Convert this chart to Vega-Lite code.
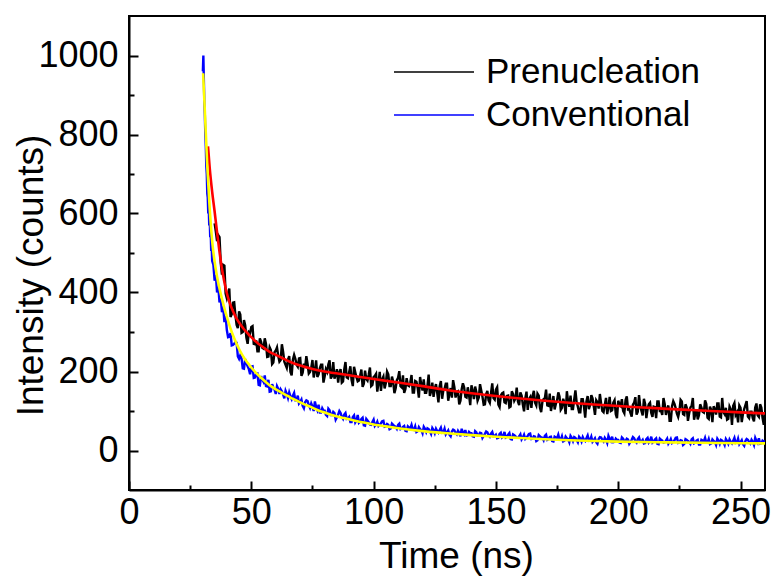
{
"$schema": "https://vega.github.io/schema/vega-lite/v6.json",
"width": 636, "height": 474,
"autosize": "none",
"padding": {"left": 129, "top": 16, "right": 9, "bottom": 93},
"background": "white",
"config": {"view": {"stroke": "black", "strokeWidth": 2}, "font": "Liberation Sans"},
"datasets": {
"decay": [
{"s":"Prenucleation","t":35,"v":575},{"s":"Prenucleation","t":36,"v":530},{"s":"Prenucleation","t":37,"v":540},{"s":"Prenucleation","t":38,"v":445},{"s":"Prenucleation","t":39,"v":468},{"s":"Prenucleation","t":40,"v":385},{"s":"Prenucleation","t":41,"v":410},{"s":"Prenucleation","t":42,"v":345},{"s":"Prenucleation","t":43,"v":375},{"s":"Prenucleation","t":44,"v":318},{"s":"Prenucleation","t":45,"v":352},{"s":"Prenucleation","t":46,"v":298},{"s":"Prenucleation","t":47,"v":330},
{"s":"Prenucleation","t":48,"v":285},{"s":"Prenucleation","t":49,"v":300},{"s":"Prenucleation","t":50,"v":313},{"s":"Prenucleation","t":51,"v":270},{"s":"Prenucleation","t":52,"v":279},{"s":"Prenucleation","t":53,"v":251},{"s":"Prenucleation","t":54,"v":275},{"s":"Prenucleation","t":55,"v":258},{"s":"Prenucleation","t":56,"v":270},{"s":"Prenucleation","t":57,"v":238},{"s":"Prenucleation","t":58,"v":254},{"s":"Prenucleation","t":59,"v":223},{"s":"Prenucleation","t":60,"v":253},{"s":"Prenucleation","t":61,"v":240},{"s":"Prenucleation","t":62,"v":229},{"s":"Prenucleation","t":63,"v":250},{"s":"Prenucleation","t":64,"v":217},{"s":"Prenucleation","t":65,"v":230},{"s":"Prenucleation","t":66,"v":199},{"s":"Prenucleation","t":67,"v":230},{"s":"Prenucleation","t":68,"v":232},{"s":"Prenucleation","t":69,"v":212},{"s":"Prenucleation","t":70,"v":234},{"s":"Prenucleation","t":71,"v":197},{"s":"Prenucleation","t":72,"v":210},{"s":"Prenucleation","t":73,"v":219},{"s":"Prenucleation","t":74,"v":199},{"s":"Prenucleation","t":75,"v":229},{"s":"Prenucleation","t":76,"v":201},{"s":"Prenucleation","t":77,"v":186},{"s":"Prenucleation","t":78,"v":208},{"s":"Prenucleation","t":79,"v":217},{"s":"Prenucleation","t":80,"v":188},{"s":"Prenucleation","t":81,"v":199},{"s":"Prenucleation","t":82,"v":228},{"s":"Prenucleation","t":83,"v":189},{"s":"Prenucleation","t":84,"v":182},{"s":"Prenucleation","t":85,"v":206},{"s":"Prenucleation","t":86,"v":198},{"s":"Prenucleation","t":87,"v":172},{"s":"Prenucleation","t":88,"v":205},{"s":"Prenucleation","t":89,"v":185},{"s":"Prenucleation","t":90,"v":198},{"s":"Prenucleation","t":91,"v":178},{"s":"Prenucleation","t":92,"v":212},{"s":"Prenucleation","t":93,"v":185},
{"s":"Prenucleation","t":94,"v":177},{"s":"Prenucleation","t":95,"v":205},{"s":"Prenucleation","t":96,"v":169},{"s":"Prenucleation","t":97,"v":181},{"s":"Prenucleation","t":98,"v":192},{"s":"Prenucleation","t":99,"v":163},{"s":"Prenucleation","t":100,"v":186},{"s":"Prenucleation","t":101,"v":194},{"s":"Prenucleation","t":102,"v":171},{"s":"Prenucleation","t":103,"v":151},{"s":"Prenucleation","t":104,"v":187},{"s":"Prenucleation","t":105,"v":171},{"s":"Prenucleation","t":106,"v":193},{"s":"Prenucleation","t":107,"v":163},{"s":"Prenucleation","t":108,"v":174},{"s":"Prenucleation","t":109,"v":157},{"s":"Prenucleation","t":110,"v":184},{"s":"Prenucleation","t":111,"v":163},{"s":"Prenucleation","t":112,"v":190},{"s":"Prenucleation","t":113,"v":156},{"s":"Prenucleation","t":114,"v":165},{"s":"Prenucleation","t":115,"v":172},{"s":"Prenucleation","t":116,"v":147},{"s":"Prenucleation","t":117,"v":176},{"s":"Prenucleation","t":118,"v":159},{"s":"Prenucleation","t":119,"v":186},{"s":"Prenucleation","t":120,"v":152},{"s":"Prenucleation","t":121,"v":146},{"s":"Prenucleation","t":122,"v":163},{"s":"Prenucleation","t":123,"v":138},{"s":"Prenucleation","t":124,"v":172},{"s":"Prenucleation","t":125,"v":157},{"s":"Prenucleation","t":126,"v":146},{"s":"Prenucleation","t":127,"v":163},{"s":"Prenucleation","t":128,"v":131},{"s":"Prenucleation","t":129,"v":156},{"s":"Prenucleation","t":130,"v":169},{"s":"Prenucleation","t":131,"v":144},{"s":"Prenucleation","t":132,"v":134},{"s":"Prenucleation","t":133,"v":161},{"s":"Prenucleation","t":134,"v":148},{"s":"Prenucleation","t":135,"v":117},{"s":"Prenucleation","t":136,"v":155},{"s":"Prenucleation","t":137,"v":160},{"s":"Prenucleation","t":138,"v":134},{"s":"Prenucleation","t":139,"v":141},{"s":"Prenucleation","t":140,"v":165},{"s":"Prenucleation","t":141,"v":130},{"s":"Prenucleation","t":142,"v":148},{"s":"Prenucleation","t":143,"v":134},{"s":"Prenucleation","t":144,"v":152},{"s":"Prenucleation","t":145,"v":116},{"s":"Prenucleation","t":146,"v":143},{"s":"Prenucleation","t":147,"v":127},{"s":"Prenucleation","t":148,"v":146},{"s":"Prenucleation","t":149,"v":133},{"s":"Prenucleation","t":150,"v":154},{"s":"Prenucleation","t":151,"v":116},{"s":"Prenucleation","t":152,"v":139},{"s":"Prenucleation","t":153,"v":147},
{"s":"Prenucleation","t":154,"v":120},{"s":"Prenucleation","t":155,"v":139},{"s":"Prenucleation","t":156,"v":111},{"s":"Prenucleation","t":157,"v":143},{"s":"Prenucleation","t":158,"v":132},{"s":"Prenucleation","t":159,"v":124},{"s":"Prenucleation","t":160,"v":147},{"s":"Prenucleation","t":161,"v":116},{"s":"Prenucleation","t":162,"v":132},{"s":"Prenucleation","t":163,"v":103},{"s":"Prenucleation","t":164,"v":135},{"s":"Prenucleation","t":165,"v":139},{"s":"Prenucleation","t":166,"v":121},{"s":"Prenucleation","t":167,"v":144},{"s":"Prenucleation","t":168,"v":108},{"s":"Prenucleation","t":169,"v":123},{"s":"Prenucleation","t":170,"v":132},{"s":"Prenucleation","t":171,"v":114},{"s":"Prenucleation","t":172,"v":144},{"s":"Prenucleation","t":173,"v":118},{"s":"Prenucleation","t":174,"v":104},{"s":"Prenucleation","t":175,"v":127},{"s":"Prenucleation","t":176,"v":137},{"s":"Prenucleation","t":177,"v":108},{"s":"Prenucleation","t":178,"v":120},{"s":"Prenucleation","t":179,"v":150},{"s":"Prenucleation","t":180,"v":111},{"s":"Prenucleation","t":181,"v":105},{"s":"Prenucleation","t":182,"v":129},{"s":"Prenucleation","t":183,"v":122},{"s":"Prenucleation","t":184,"v":97},{"s":"Prenucleation","t":185,"v":130},{"s":"Prenucleation","t":186,"v":111},{"s":"Prenucleation","t":187,"v":124},{"s":"Prenucleation","t":188,"v":105},{"s":"Prenucleation","t":189,"v":140},{"s":"Prenucleation","t":190,"v":112},{"s":"Prenucleation","t":191,"v":127},{"s":"Prenucleation","t":192,"v":106},{"s":"Prenucleation","t":193,"v":119},{"s":"Prenucleation","t":194,"v":97},{"s":"Prenucleation","t":195,"v":133},{"s":"Prenucleation","t":196,"v":110},{"s":"Prenucleation","t":197,"v":100},{"s":"Prenucleation","t":198,"v":121},{"s":"Prenucleation","t":199,"v":92},{"s":"Prenucleation","t":200,"v":126},{"s":"Prenucleation","t":201,"v":113},{"s":"Prenucleation","t":202,"v":100},{"s":"Prenucleation","t":203,"v":128},{"s":"Prenucleation","t":204,"v":104},{"s":"Prenucleation","t":205,"v":95},{"s":"Prenucleation","t":206,"v":116},{"s":"Prenucleation","t":207,"v":135},{"s":"Prenucleation","t":208,"v":98},{"s":"Prenucleation","t":209,"v":112},{"s":"Prenucleation","t":210,"v":89},{"s":"Prenucleation","t":211,"v":118},{"s":"Prenucleation","t":212,"v":105},{"s":"Prenucleation","t":213,"v":121},
{"s":"Prenucleation","t":214,"v":85},{"s":"Prenucleation","t":215,"v":110},{"s":"Prenucleation","t":216,"v":124},{"s":"Prenucleation","t":217,"v":100},{"s":"Prenucleation","t":218,"v":90},{"s":"Prenucleation","t":219,"v":117},{"s":"Prenucleation","t":220,"v":105},{"s":"Prenucleation","t":221,"v":75},{"s":"Prenucleation","t":222,"v":112},{"s":"Prenucleation","t":223,"v":118},{"s":"Prenucleation","t":224,"v":93},{"s":"Prenucleation","t":225,"v":100},{"s":"Prenucleation","t":226,"v":124},{"s":"Prenucleation","t":227,"v":90},{"s":"Prenucleation","t":228,"v":109},{"s":"Prenucleation","t":229,"v":94},{"s":"Prenucleation","t":230,"v":113},{"s":"Prenucleation","t":231,"v":78},{"s":"Prenucleation","t":232,"v":104},{"s":"Prenucleation","t":233,"v":89},{"s":"Prenucleation","t":234,"v":109},{"s":"Prenucleation","t":235,"v":96},{"s":"Prenucleation","t":236,"v":118},{"s":"Prenucleation","t":237,"v":80},{"s":"Prenucleation","t":238,"v":103},{"s":"Prenucleation","t":239,"v":112},{"s":"Prenucleation","t":240,"v":91},{"s":"Prenucleation","t":241,"v":119},{"s":"Prenucleation","t":242,"v":84},{"s":"Prenucleation","t":243,"v":97},{"s":"Prenucleation","t":244,"v":108},{"s":"Prenucleation","t":245,"v":80},{"s":"Prenucleation","t":246,"v":104},{"s":"Prenucleation","t":247,"v":113},{"s":"Prenucleation","t":248,"v":90},{"s":"Prenucleation","t":249,"v":71},{"s":"Prenucleation","t":250,"v":108},{"s":"Prenucleation","t":251,"v":93},{"s":"Prenucleation","t":252,"v":115},{"s":"Prenucleation","t":253,"v":86},{"s":"Prenucleation","t":254,"v":98},{"s":"Prenucleation","t":255,"v":82},{"s":"Prenucleation","t":256,"v":109},{"s":"Prenucleation","t":257,"v":89},{"s":"Prenucleation","t":258,"v":117},{"s":"Prenucleation","t":259,"v":83},{"s":"Prenucleation","t":260,"v":93},
{"s":"Prenucleation","t":35.5,"v":554},{"s":"Prenucleation","t":36.5,"v":545},{"s":"Prenucleation","t":37.5,"v":475},{"s":"Prenucleation","t":38.5,"v":470},{"s":"Prenucleation","t":39.5,"v":397},{"s":"Prenucleation","t":40.5,"v":396},{"s":"Prenucleation","t":41.5,"v":338},{"s":"Prenucleation","t":42.5,"v":374},{"s":"Prenucleation","t":43.5,"v":343},{"s":"Prenucleation","t":44.5,"v":310},{"s":"Prenucleation","t":45.5,"v":344},{"s":"Prenucleation","t":46.5,"v":300},{"s":"Prenucleation","t":47.5,"v":317},{"s":"Prenucleation","t":48.5,"v":270},{"s":"Prenucleation","t":49.5,"v":297},{"s":"Prenucleation","t":50.5,"v":315},{"s":"Prenucleation","t":51.5,"v":269},{"s":"Prenucleation","t":52.5,"v":251},{"s":"Prenucleation","t":53.5,"v":284},{"s":"Prenucleation","t":54.5,"v":260},{"s":"Prenucleation","t":55.5,"v":284},{"s":"Prenucleation","t":56.5,"v":237},{"s":"Prenucleation","t":57.5,"v":261},{"s":"Prenucleation","t":58.5,"v":219},{"s":"Prenucleation","t":59.5,"v":249},{"s":"Prenucleation","t":60.5,"v":261},{"s":"Prenucleation","t":61.5,"v":225},{"s":"Prenucleation","t":62.5,"v":269},{"s":"Prenucleation","t":63.5,"v":225},{"s":"Prenucleation","t":64.5,"v":209},{"s":"Prenucleation","t":65.5,"v":239},{"s":"Prenucleation","t":66.5,"v":190},{"s":"Prenucleation","t":67.5,"v":242},{"s":"Prenucleation","t":68.5,"v":217},{"s":"Prenucleation","t":69.5,"v":233},{"s":"Prenucleation","t":70.5,"v":189},{"s":"Prenucleation","t":71.5,"v":220},{"s":"Prenucleation","t":72.5,"v":239},{"s":"Prenucleation","t":73.5,"v":195},{"s":"Prenucleation","t":74.5,"v":209},{"s":"Prenucleation","t":75.5,"v":185},{"s":"Prenucleation","t":76.5,"v":228},{"s":"Prenucleation","t":77.5,"v":193},{"s":"Prenucleation","t":78.5,"v":217},{"s":"Prenucleation","t":79.5,"v":172},{"s":"Prenucleation","t":80.5,"v":206},{"s":"Prenucleation","t":81.5,"v":218},{"s":"Prenucleation","t":82.5,"v":182},{"s":"Prenucleation","t":83.5,"v":224},{"s":"Prenucleation","t":84.5,"v":191},{"s":"Prenucleation","t":85.5,"v":172},{"s":"Prenucleation","t":86.5,"v":206},{"s":"Prenucleation","t":87.5,"v":175},{"s":"Prenucleation","t":88.5,"v":224},{"s":"Prenucleation","t":89.5,"v":183},{"s":"Prenucleation","t":90.5,"v":213},{"s":"Prenucleation","t":91.5,"v":163},{"s":"Prenucleation","t":92.5,"v":198},{"s":"Prenucleation","t":93.5,"v":175},{"s":"Prenucleation","t":94.5,"v":190},{"s":"Prenucleation","t":95.5,"v":161},{"s":"Prenucleation","t":96.5,"v":202},{"s":"Prenucleation","t":97.5,"v":177},{"s":"Prenucleation","t":98.5,"v":210},{"s":"Prenucleation","t":99.5,"v":166},{"s":"Prenucleation","t":100.5,"v":189},{"s":"Prenucleation","t":101.5,"v":149},{"s":"Prenucleation","t":102.5,"v":199},{"s":"Prenucleation","t":103.5,"v":180},{"s":"Prenucleation","t":104.5,"v":157},{"s":"Prenucleation","t":105.5,"v":200},{"s":"Prenucleation","t":106.5,"v":163},{"s":"Prenucleation","t":107.5,"v":187},{"s":"Prenucleation","t":108.5,"v":145},{"s":"Prenucleation","t":109.5,"v":178},{"s":"Prenucleation","t":110.5,"v":201},{"s":"Prenucleation","t":111.5,"v":160},{"s":"Prenucleation","t":112.5,"v":146},{"s":"Prenucleation","t":113.5,"v":183},{"s":"Prenucleation","t":114.5,"v":163},{"s":"Prenucleation","t":115.5,"v":191},{"s":"Prenucleation","t":116.5,"v":147},{"s":"Prenucleation","t":117.5,"v":174},{"s":"Prenucleation","t":118.5,"v":134},{"s":"Prenucleation","t":119.5,"v":166},{"s":"Prenucleation","t":120.5,"v":180},{"s":"Prenucleation","t":121.5,"v":146},{"s":"Prenucleation","t":122.5,"v":192},{"s":"Prenucleation","t":123.5,"v":150},{"s":"Prenucleation","t":124.5,"v":136},{"s":"Prenucleation","t":125.5,"v":168},{"s":"Prenucleation","t":126.5,"v":122},{"s":"Prenucleation","t":127.5,"v":176},{"s":"Prenucleation","t":128.5,"v":152},{"s":"Prenucleation","t":129.5,"v":169},{"s":"Prenucleation","t":130.5,"v":126},{"s":"Prenucleation","t":131.5,"v":158},{"s":"Prenucleation","t":132.5,"v":178},{"s":"Prenucleation","t":133.5,"v":134},{"s":"Prenucleation","t":134.5,"v":150},{"s":"Prenucleation","t":135.5,"v":126},{"s":"Prenucleation","t":136.5,"v":170},{"s":"Prenucleation","t":137.5,"v":136},{"s":"Prenucleation","t":138.5,"v":160},{"s":"Prenucleation","t":139.5,"v":115},{"s":"Prenucleation","t":140.5,"v":150},{"s":"Prenucleation","t":141.5,"v":162},{"s":"Prenucleation","t":142.5,"v":126},{"s":"Prenucleation","t":143.5,"v":168},{"s":"Prenucleation","t":144.5,"v":136},{"s":"Prenucleation","t":145.5,"v":117},{"s":"Prenucleation","t":146.5,"v":151},{"s":"Prenucleation","t":147.5,"v":121},{"s":"Prenucleation","t":148.5,"v":170},{"s":"Prenucleation","t":149.5,"v":129},{"s":"Prenucleation","t":150.5,"v":160},{"s":"Prenucleation","t":151.5,"v":110},{"s":"Prenucleation","t":152.5,"v":145},{"s":"Prenucleation","t":153.5,"v":122},{"s":"Prenucleation","t":154.5,"v":138},{"s":"Prenucleation","t":155.5,"v":109},{"s":"Prenucleation","t":156.5,"v":150},{"s":"Prenucleation","t":157.5,"v":126},{"s":"Prenucleation","t":158.5,"v":159},{"s":"Prenucleation","t":159.5,"v":115},{"s":"Prenucleation","t":160.5,"v":139},{"s":"Prenucleation","t":161.5,"v":99},{"s":"Prenucleation","t":162.5,"v":149},{"s":"Prenucleation","t":163.5,"v":130},{"s":"Prenucleation","t":164.5,"v":108},{"s":"Prenucleation","t":165.5,"v":151},{"s":"Prenucleation","t":166.5,"v":114},{"s":"Prenucleation","t":167.5,"v":139},{"s":"Prenucleation","t":168.5,"v":97},{"s":"Prenucleation","t":169.5,"v":130},{"s":"Prenucleation","t":170.5,"v":154},{"s":"Prenucleation","t":171.5,"v":113},{"s":"Prenucleation","t":172.5,"v":100},{"s":"Prenucleation","t":173.5,"v":138},{"s":"Prenucleation","t":174.5,"v":118},{"s":"Prenucleation","t":175.5,"v":147},{"s":"Prenucleation","t":176.5,"v":103},{"s":"Prenucleation","t":177.5,"v":131},{"s":"Prenucleation","t":178.5,"v":92},{"s":"Prenucleation","t":179.5,"v":124},{"s":"Prenucleation","t":180.5,"v":139},{"s":"Prenucleation","t":181.5,"v":105},{"s":"Prenucleation","t":182.5,"v":152},{"s":"Prenucleation","t":183.5,"v":111},{"s":"Prenucleation","t":184.5,"v":97},{"s":"Prenucleation","t":185.5,"v":130},{"s":"Prenucleation","t":186.5,"v":83},{"s":"Prenucleation","t":187.5,"v":138},{"s":"Prenucleation","t":188.5,"v":115},{"s":"Prenucleation","t":189.5,"v":132},{"s":"Prenucleation","t":190.5,"v":90},{"s":"Prenucleation","t":191.5,"v":122},{"s":"Prenucleation","t":192.5,"v":143},{"s":"Prenucleation","t":193.5,"v":100},{"s":"Prenucleation","t":194.5,"v":115},{"s":"Prenucleation","t":195.5,"v":92},{"s":"Prenucleation","t":196.5,"v":136},{"s":"Prenucleation","t":197.5,"v":102},{"s":"Prenucleation","t":198.5,"v":127},{"s":"Prenucleation","t":199.5,"v":82},{"s":"Prenucleation","t":200.5,"v":117},{"s":"Prenucleation","t":201.5,"v":130},{"s":"Prenucleation","t":202.5,"v":94},{"s":"Prenucleation","t":203.5,"v":137},{"s":"Prenucleation","t":204.5,"v":105},{"s":"Prenucleation","t":205.5,"v":86},{"s":"Prenucleation","t":206.5,"v":121},{"s":"Prenucleation","t":207.5,"v":91},{"s":"Prenucleation","t":208.5,"v":140},{"s":"Prenucleation","t":209.5,"v":100},{"s":"Prenucleation","t":210.5,"v":131},{"s":"Prenucleation","t":211.5,"v":82},{"s":"Prenucleation","t":212.5,"v":117},{"s":"Prenucleation","t":213.5,"v":95},{"s":"Prenucleation","t":214.5,"v":111},{"s":"Prenucleation","t":215.5,"v":82},{"s":"Prenucleation","t":216.5,"v":124},{"s":"Prenucleation","t":217.5,"v":100},{"s":"Prenucleation","t":218.5,"v":133},{"s":"Prenucleation","t":219.5,"v":90},{"s":"Prenucleation","t":220.5,"v":114},{"s":"Prenucleation","t":221.5,"v":75},{"s":"Prenucleation","t":222.5,"v":125},{"s":"Prenucleation","t":223.5,"v":107},{"s":"Prenucleation","t":224.5,"v":85},{"s":"Prenucleation","t":225.5,"v":128},{"s":"Prenucleation","t":226.5,"v":92},{"s":"Prenucleation","t":227.5,"v":117},{"s":"Prenucleation","t":228.5,"v":75},{"s":"Prenucleation","t":229.5,"v":109},{"s":"Prenucleation","t":230.5,"v":133},{"s":"Prenucleation","t":231.5,"v":93},{"s":"Prenucleation","t":232.5,"v":79},{"s":"Prenucleation","t":233.5,"v":117},{"s":"Prenucleation","t":234.5,"v":98},{"s":"Prenucleation","t":235.5,"v":127},{"s":"Prenucleation","t":236.5,"v":83},{"s":"Prenucleation","t":237.5,"v":111},{"s":"Prenucleation","t":238.5,"v":72},{"s":"Prenucleation","t":239.5,"v":105},{"s":"Prenucleation","t":240.5,"v":119},{"s":"Prenucleation","t":241.5,"v":86},{"s":"Prenucleation","t":242.5,"v":133},{"s":"Prenucleation","t":243.5,"v":92},{"s":"Prenucleation","t":244.5,"v":78},{"s":"Prenucleation","t":245.5,"v":111},{"s":"Prenucleation","t":246.5,"v":65},{"s":"Prenucleation","t":247.5,"v":120},{"s":"Prenucleation","t":248.5,"v":96},{"s":"Prenucleation","t":249.5,"v":114},{"s":"Prenucleation","t":250.5,"v":72},{"s":"Prenucleation","t":251.5,"v":105},{"s":"Prenucleation","t":252.5,"v":125},{"s":"Prenucleation","t":253.5,"v":82},{"s":"Prenucleation","t":254.5,"v":98},{"s":"Prenucleation","t":255.5,"v":74},{"s":"Prenucleation","t":256.5,"v":119},{"s":"Prenucleation","t":257.5,"v":85},{"s":"Prenucleation","t":258.5,"v":109},{"s":"Prenucleation","t":259.5,"v":65},
{"s":"Conventional","t":30.2,"v":960},{"s":"Conventional","t":30.4,"v":1000},{"s":"Conventional","t":30.6,"v":940},{"s":"Conventional","t":30.8,"v":880},{"s":"Conventional","t":31.0,"v":850},{"s":"Conventional","t":31.2,"v":800},{"s":"Conventional","t":31.4,"v":770},{"s":"Conventional","t":31.6,"v":720},{"s":"Conventional","t":31.8,"v":700},{"s":"Conventional","t":32.0,"v":650},{"s":"Conventional","t":32.2,"v":640},{"s":"Conventional","t":32.4,"v":600},{"s":"Conventional","t":32.6,"v":615},{"s":"Conventional","t":32.8,"v":570},{"s":"Conventional","t":33.0,"v":585},{"s":"Conventional","t":33.2,"v":540},{"s":"Conventional","t":33.4,"v":555},{"s":"Conventional","t":33.6,"v":505},{"s":"Conventional","t":33.8,"v":520},{"s":"Conventional","t":34.0,"v":480},{"s":"Conventional","t":34.5,"v":470},{"s":"Conventional","t":35.0,"v":430},{"s":"Conventional","t":35.5,"v":445},{"s":"Conventional","t":36.0,"v":400},{"s":"Conventional","t":36.5,"v":415},{"s":"Conventional","t":37.0,"v":375},{"s":"Conventional","t":37.5,"v":385},{"s":"Conventional","t":38.0,"v":350},{"s":"Conventional","t":38.5,"v":365},{"s":"Conventional","t":39.0,"v":325},{"s":"Conventional","t":39.5,"v":340},{"s":"Conventional","t":40.0,"v":305},
{"s":"Conventional","t":41,"v":288},{"s":"Conventional","t":42,"v":266},{"s":"Conventional","t":43,"v":270},{"s":"Conventional","t":44,"v":273},{"s":"Conventional","t":45,"v":232},{"s":"Conventional","t":46,"v":233},{"s":"Conventional","t":47,"v":207},{"s":"Conventional","t":48,"v":222},{"s":"Conventional","t":49,"v":206},{"s":"Conventional","t":50,"v":212},{"s":"Conventional","t":51,"v":184},{"s":"Conventional","t":52,"v":194},{"s":"Conventional","t":53,"v":166},{"s":"Conventional","t":54,"v":188},{"s":"Conventional","t":55,"v":174},{"s":"Conventional","t":56,"v":163},{"s":"Conventional","t":57,"v":179},{"s":"Conventional","t":58,"v":150},{"s":"Conventional","t":59,"v":159},{"s":"Conventional","t":60,"v":143},{"s":"Conventional","t":61,"v":156},{"s":"Conventional","t":62,"v":155},{"s":"Conventional","t":63,"v":142},{"s":"Conventional","t":64,"v":151},{"s":"Conventional","t":65,"v":133},{"s":"Conventional","t":66,"v":137},{"s":"Conventional","t":67,"v":139},{"s":"Conventional","t":68,"v":127},{"s":"Conventional","t":69,"v":139},{"s":"Conventional","t":70,"v":123},{"s":"Conventional","t":71,"v":113},{"s":"Conventional","t":72,"v":122},{"s":"Conventional","t":73,"v":125},{"s":"Conventional","t":74,"v":108},{"s":"Conventional","t":75,"v":111},{"s":"Conventional","t":76,"v":124},{"s":"Conventional","t":77,"v":102},{"s":"Conventional","t":78,"v":96},{"s":"Conventional","t":79,"v":107},{"s":"Conventional","t":80,"v":101},{"s":"Conventional","t":81,"v":87},{"s":"Conventional","t":82,"v":102},{"s":"Conventional","t":83,"v":90},{"s":"Conventional","t":84,"v":95},{"s":"Conventional","t":85,"v":84},{"s":"Conventional","t":86,"v":100},{"s":"Conventional","t":87,"v":85},{"s":"Conventional","t":88,"v":91},{"s":"Conventional","t":89,"v":80},{"s":"Conventional","t":90,"v":85},{"s":"Conventional","t":91,"v":72},{"s":"Conventional","t":92,"v":89},{"s":"Conventional","t":93,"v":76},{"s":"Conventional","t":94,"v":70},{"s":"Conventional","t":95,"v":80},{"s":"Conventional","t":96,"v":64},{"s":"Conventional","t":97,"v":80},{"s":"Conventional","t":98,"v":72},{"s":"Conventional","t":99,"v":65},{"s":"Conventional","t":100,"v":78},
{"s":"Conventional","t":101,"v":66},{"s":"Conventional","t":102,"v":62},{"s":"Conventional","t":103,"v":69},{"s":"Conventional","t":104,"v":75},{"s":"Conventional","t":105,"v":61},{"s":"Conventional","t":106,"v":65},{"s":"Conventional","t":107,"v":56},{"s":"Conventional","t":108,"v":65},{"s":"Conventional","t":109,"v":60},{"s":"Conventional","t":110,"v":65},{"s":"Conventional","t":111,"v":54},{"s":"Conventional","t":112,"v":60},{"s":"Conventional","t":113,"v":50},{"s":"Conventional","t":114,"v":61},{"s":"Conventional","t":115,"v":56},{"s":"Conventional","t":116,"v":53},{"s":"Conventional","t":117,"v":61},{"s":"Conventional","t":118,"v":49},{"s":"Conventional","t":119,"v":54},{"s":"Conventional","t":120,"v":44},{"s":"Conventional","t":121,"v":55},{"s":"Conventional","t":122,"v":56},{"s":"Conventional","t":123,"v":49},{"s":"Conventional","t":124,"v":57},{"s":"Conventional","t":125,"v":44},{"s":"Conventional","t":126,"v":49},{"s":"Conventional","t":127,"v":52},{"s":"Conventional","t":128,"v":45},{"s":"Conventional","t":129,"v":55},{"s":"Conventional","t":130,"v":46},{"s":"Conventional","t":131,"v":40},{"s":"Conventional","t":132,"v":48},{"s":"Conventional","t":133,"v":51},{"s":"Conventional","t":134,"v":41},{"s":"Conventional","t":135,"v":45},{"s":"Conventional","t":136,"v":55},{"s":"Conventional","t":137,"v":41},{"s":"Conventional","t":138,"v":38},{"s":"Conventional","t":139,"v":47},{"s":"Conventional","t":140,"v":44},{"s":"Conventional","t":141,"v":35},{"s":"Conventional","t":142,"v":46},{"s":"Conventional","t":143,"v":39},{"s":"Conventional","t":144,"v":44},{"s":"Conventional","t":145,"v":37},{"s":"Conventional","t":146,"v":48},{"s":"Conventional","t":147,"v":39},{"s":"Conventional","t":148,"v":43},{"s":"Conventional","t":149,"v":36},{"s":"Conventional","t":150,"v":40},{"s":"Conventional","t":151,"v":32},{"s":"Conventional","t":152,"v":45},{"s":"Conventional","t":153,"v":36},{"s":"Conventional","t":154,"v":33},{"s":"Conventional","t":155,"v":40},{"s":"Conventional","t":156,"v":29},{"s":"Conventional","t":157,"v":41},{"s":"Conventional","t":158,"v":36},{"s":"Conventional","t":159,"v":32},{"s":"Conventional","t":160,"v":41},
{"s":"Conventional","t":161,"v":33},{"s":"Conventional","t":162,"v":29},{"s":"Conventional","t":163,"v":37},{"s":"Conventional","t":164,"v":43},{"s":"Conventional","t":165,"v":30},{"s":"Conventional","t":166,"v":35},{"s":"Conventional","t":167,"v":26},{"s":"Conventional","t":168,"v":36},{"s":"Conventional","t":169,"v":32},{"s":"Conventional","t":170,"v":37},{"s":"Conventional","t":171,"v":27},{"s":"Conventional","t":172,"v":34},{"s":"Conventional","t":173,"v":24},{"s":"Conventional","t":174,"v":35},{"s":"Conventional","t":175,"v":31},{"s":"Conventional","t":176,"v":28},{"s":"Conventional","t":177,"v":36},{"s":"Conventional","t":178,"v":25},{"s":"Conventional","t":179,"v":31},{"s":"Conventional","t":180,"v":21},{"s":"Conventional","t":181,"v":32},{"s":"Conventional","t":182,"v":34},{"s":"Conventional","t":183,"v":27},{"s":"Conventional","t":184,"v":35},{"s":"Conventional","t":185,"v":23},{"s":"Conventional","t":186,"v":28},{"s":"Conventional","t":187,"v":31},{"s":"Conventional","t":188,"v":25},{"s":"Conventional","t":189,"v":35},{"s":"Conventional","t":190,"v":26},{"s":"Conventional","t":191,"v":21},{"s":"Conventional","t":192,"v":29},{"s":"Conventional","t":193,"v":33},{"s":"Conventional","t":194,"v":23},{"s":"Conventional","t":195,"v":27},{"s":"Conventional","t":196,"v":37},{"s":"Conventional","t":197,"v":24},{"s":"Conventional","t":198,"v":21},{"s":"Conventional","t":199,"v":30},{"s":"Conventional","t":200,"v":27},{"s":"Conventional","t":201,"v":19},{"s":"Conventional","t":202,"v":30},{"s":"Conventional","t":203,"v":24},{"s":"Conventional","t":204,"v":28},{"s":"Conventional","t":205,"v":22},{"s":"Conventional","t":206,"v":34},{"s":"Conventional","t":207,"v":24},{"s":"Conventional","t":208,"v":29},{"s":"Conventional","t":209,"v":22},{"s":"Conventional","t":210,"v":27},
{"s":"Conventional","t":211,"v":19},{"s":"Conventional","t":212,"v":32},{"s":"Conventional","t":213,"v":24},{"s":"Conventional","t":214,"v":20},{"s":"Conventional","t":215,"v":28},{"s":"Conventional","t":216,"v":17},{"s":"Conventional","t":217,"v":30},{"s":"Conventional","t":218,"v":25},{"s":"Conventional","t":219,"v":21},{"s":"Conventional","t":220,"v":30},{"s":"Conventional","t":221,"v":22},{"s":"Conventional","t":222,"v":19},{"s":"Conventional","t":223,"v":26},{"s":"Conventional","t":224,"v":33},{"s":"Conventional","t":225,"v":20},{"s":"Conventional","t":226,"v":25},{"s":"Conventional","t":227,"v":17},{"s":"Conventional","t":228,"v":27},{"s":"Conventional","t":229,"v":22},{"s":"Conventional","t":230,"v":28},{"s":"Conventional","t":231,"v":18},{"s":"Conventional","t":232,"v":25},{"s":"Conventional","t":233,"v":15},{"s":"Conventional","t":234,"v":27},{"s":"Conventional","t":235,"v":23},{"s":"Conventional","t":236,"v":20},{"s":"Conventional","t":237,"v":29},{"s":"Conventional","t":238,"v":18},{"s":"Conventional","t":239,"v":24},{"s":"Conventional","t":240,"v":14},{"s":"Conventional","t":241,"v":25},{"s":"Conventional","t":242,"v":27},{"s":"Conventional","t":243,"v":21},{"s":"Conventional","t":244,"v":29},{"s":"Conventional","t":245,"v":17},{"s":"Conventional","t":246,"v":22},{"s":"Conventional","t":247,"v":25},{"s":"Conventional","t":248,"v":19},{"s":"Conventional","t":249,"v":30},{"s":"Conventional","t":250,"v":21},{"s":"Conventional","t":251,"v":16},{"s":"Conventional","t":252,"v":24},{"s":"Conventional","t":253,"v":27},{"s":"Conventional","t":254,"v":18},{"s":"Conventional","t":255,"v":22},{"s":"Conventional","t":256,"v":32},{"s":"Conventional","t":257,"v":19},{"s":"Conventional","t":258,"v":17},{"s":"Conventional","t":259,"v":25},{"s":"Conventional","t":260,"v":23},
{"s":"Conventional","t":40.5,"v":287},{"s":"Conventional","t":41.5,"v":297},{"s":"Conventional","t":42.5,"v":267},{"s":"Conventional","t":43.5,"v":275},{"s":"Conventional","t":44.5,"v":238},{"s":"Conventional","t":45.5,"v":241},{"s":"Conventional","t":46.5,"v":208},{"s":"Conventional","t":47.5,"v":231},{"s":"Conventional","t":48.5,"v":213},{"s":"Conventional","t":49.5,"v":193},{"s":"Conventional","t":50.5,"v":213},{"s":"Conventional","t":51.5,"v":185},{"s":"Conventional","t":52.5,"v":195},{"s":"Conventional","t":53.5,"v":165},{"s":"Conventional","t":54.5,"v":180},{"s":"Conventional","t":55.5,"v":190},{"s":"Conventional","t":56.5,"v":162},{"s":"Conventional","t":57.5,"v":149},{"s":"Conventional","t":58.5,"v":168},{"s":"Conventional","t":59.5,"v":154},{"s":"Conventional","t":60.5,"v":163},{"s":"Conventional","t":61.5,"v":143},{"s":"Conventional","t":62.5,"v":150},{"s":"Conventional","t":63.5,"v":132},{"s":"Conventional","t":64.5,"v":143},{"s":"Conventional","t":65.5,"v":147},{"s":"Conventional","t":66.5,"v":130},{"s":"Conventional","t":67.5,"v":146},{"s":"Conventional","t":68.5,"v":127},{"s":"Conventional","t":69.5,"v":119},{"s":"Conventional","t":70.5,"v":129},{"s":"Conventional","t":71.5,"v":107},{"s":"Conventional","t":72.5,"v":127},{"s":"Conventional","t":73.5,"v":115},{"s":"Conventional","t":74.5,"v":119},{"s":"Conventional","t":75.5,"v":100},{"s":"Conventional","t":76.5,"v":110},{"s":"Conventional","t":77.5,"v":116},{"s":"Conventional","t":78.5,"v":96},{"s":"Conventional","t":79.5,"v":101},{"s":"Conventional","t":80.5,"v":90},{"s":"Conventional","t":81.5,"v":106},{"s":"Conventional","t":82.5,"v":90},{"s":"Conventional","t":83.5,"v":98},{"s":"Conventional","t":84.5,"v":78},{"s":"Conventional","t":85.5,"v":91},{"s":"Conventional","t":86.5,"v":95},{"s":"Conventional","t":87.5,"v":80},{"s":"Conventional","t":88.5,"v":95},{"s":"Conventional","t":89.5,"v":81},{"s":"Conventional","t":90.5,"v":72},{"s":"Conventional","t":91.5,"v":85},{"s":"Conventional","t":92.5,"v":71},{"s":"Conventional","t":93.5,"v":90},{"s":"Conventional","t":94.5,"v":73},{"s":"Conventional","t":95.5,"v":83},{"s":"Conventional","t":96.5,"v":63},{"s":"Conventional","t":97.5,"v":76},{"s":"Conventional","t":98.5,"v":66},{"s":"Conventional","t":99.5,"v":72},{"s":"Conventional","t":100.5,"v":62},{"s":"Conventional","t":101.5,"v":73},{"s":"Conventional","t":102.5,"v":65},{"s":"Conventional","t":103.5,"v":74},{"s":"Conventional","t":104.5,"v":60},{"s":"Conventional","t":105.5,"v":67},{"s":"Conventional","t":106.5,"v":54},{"s":"Conventional","t":107.5,"v":68},{"s":"Conventional","t":108.5,"v":62},{"s":"Conventional","t":109.5,"v":55},{"s":"Conventional","t":110.5,"v":68},{"s":"Conventional","t":111.5,"v":56},{"s":"Conventional","t":112.5,"v":62},{"s":"Conventional","t":113.5,"v":49},{"s":"Conventional","t":114.5,"v":58},{"s":"Conventional","t":115.5,"v":65},{"s":"Conventional","t":116.5,"v":52},{"s":"Conventional","t":117.5,"v":47},{"s":"Conventional","t":118.5,"v":59},{"s":"Conventional","t":119.5,"v":52},{"s":"Conventional","t":120.5,"v":60},{"s":"Conventional","t":121.5,"v":47},{"s":"Conventional","t":122.5,"v":54},{"s":"Conventional","t":123.5,"v":42},{"s":"Conventional","t":124.5,"v":52},{"s":"Conventional","t":125.5,"v":55},{"s":"Conventional","t":126.5,"v":45},{"s":"Conventional","t":127.5,"v":58},{"s":"Conventional","t":128.5,"v":46},{"s":"Conventional","t":129.5,"v":41},{"s":"Conventional","t":130.5,"v":51},{"s":"Conventional","t":131.5,"v":36},{"s":"Conventional","t":132.5,"v":53},{"s":"Conventional","t":133.5,"v":45},{"s":"Conventional","t":134.5,"v":50},{"s":"Conventional","t":135.5,"v":36},{"s":"Conventional","t":136.5,"v":46},{"s":"Conventional","t":137.5,"v":52},{"s":"Conventional","t":138.5,"v":39},{"s":"Conventional","t":139.5,"v":44},{"s":"Conventional","t":140.5,"v":36},{"s":"Conventional","t":141.5,"v":49},{"s":"Conventional","t":142.5,"v":38},{"s":"Conventional","t":143.5,"v":45},{"s":"Conventional","t":144.5,"v":32},{"s":"Conventional","t":145.5,"v":42},{"s":"Conventional","t":146.5,"v":46},{"s":"Conventional","t":147.5,"v":35},{"s":"Conventional","t":148.5,"v":47},{"s":"Conventional","t":149.5,"v":37},{"s":"Conventional","t":150.5,"v":31},{"s":"Conventional","t":151.5,"v":42},{"s":"Conventional","t":152.5,"v":33},{"s":"Conventional","t":153.5,"v":47},{"s":"Conventional","t":154.5,"v":35},{"s":"Conventional","t":155.5,"v":44},{"s":"Conventional","t":156.5,"v":28},{"s":"Conventional","t":157.5,"v":39},{"s":"Conventional","t":158.5,"v":32},{"s":"Conventional","t":159.5,"v":36},{"s":"Conventional","t":160.5,"v":28},{"s":"Conventional","t":161.5,"v":40},{"s":"Conventional","t":162.5,"v":32},{"s":"Conventional","t":163.5,"v":42},{"s":"Conventional","t":164.5,"v":29},{"s":"Conventional","t":165.5,"v":36},{"s":"Conventional","t":166.5,"v":24},{"s":"Conventional","t":167.5,"v":39},{"s":"Conventional","t":168.5,"v":33},{"s":"Conventional","t":169.5,"v":26},{"s":"Conventional","t":170.5,"v":40},{"s":"Conventional","t":171.5,"v":29},{"s":"Conventional","t":172.5,"v":35},{"s":"Conventional","t":173.5,"v":23},{"s":"Conventional","t":174.5,"v":33},{"s":"Conventional","t":175.5,"v":40},{"s":"Conventional","t":176.5,"v":27},{"s":"Conventional","t":177.5,"v":23},{"s":"Conventional","t":178.5,"v":35},{"s":"Conventional","t":179.5,"v":29},{"s":"Conventional","t":180.5,"v":37},{"s":"Conventional","t":181.5,"v":24},{"s":"Conventional","t":182.5,"v":32},{"s":"Conventional","t":183.5,"v":21},{"s":"Conventional","t":184.5,"v":31},{"s":"Conventional","t":185.5,"v":34},{"s":"Conventional","t":186.5,"v":24},{"s":"Conventional","t":187.5,"v":38},{"s":"Conventional","t":188.5,"v":26},{"s":"Conventional","t":189.5,"v":22},{"s":"Conventional","t":190.5,"v":31},{"s":"Conventional","t":191.5,"v":17},{"s":"Conventional","t":192.5,"v":34},{"s":"Conventional","t":193.5,"v":27},{"s":"Conventional","t":194.5,"v":32},{"s":"Conventional","t":195.5,"v":19},{"s":"Conventional","t":196.5,"v":29},{"s":"Conventional","t":197.5,"v":35},{"s":"Conventional","t":198.5,"v":22},{"s":"Conventional","t":199.5,"v":27},{"s":"Conventional","t":200.5,"v":20},{"s":"Conventional","t":201.5,"v":33},{"s":"Conventional","t":202.5,"v":23},{"s":"Conventional","t":203.5,"v":30},{"s":"Conventional","t":204.5,"v":17},{"s":"Conventional","t":205.5,"v":27},{"s":"Conventional","t":206.5,"v":31},{"s":"Conventional","t":207.5,"v":20},{"s":"Conventional","t":208.5,"v":33},{"s":"Conventional","t":209.5,"v":23},{"s":"Conventional","t":210.5,"v":18},{"s":"Conventional","t":211.5,"v":29},{"s":"Conventional","t":212.5,"v":20},{"s":"Conventional","t":213.5,"v":35},{"s":"Conventional","t":214.5,"v":23},{"s":"Conventional","t":215.5,"v":31},{"s":"Conventional","t":216.5,"v":16},{"s":"Conventional","t":217.5,"v":27},{"s":"Conventional","t":218.5,"v":20},{"s":"Conventional","t":219.5,"v":25},{"s":"Conventional","t":220.5,"v":17},{"s":"Conventional","t":221.5,"v":29},{"s":"Conventional","t":222.5,"v":22},{"s":"Conventional","t":223.5,"v":32},{"s":"Conventional","t":224.5,"v":19},{"s":"Conventional","t":225.5,"v":26},{"s":"Conventional","t":226.5,"v":14},{"s":"Conventional","t":227.5,"v":29},{"s":"Conventional","t":228.5,"v":24},{"s":"Conventional","t":229.5,"v":17},{"s":"Conventional","t":230.5,"v":31},{"s":"Conventional","t":231.5,"v":20},{"s":"Conventional","t":232.5,"v":27},{"s":"Conventional","t":233.5,"v":15},{"s":"Conventional","t":234.5,"v":25},{"s":"Conventional","t":235.5,"v":32},{"s":"Conventional","t":236.5,"v":20},{"s":"Conventional","t":237.5,"v":16},{"s":"Conventional","t":238.5,"v":28},{"s":"Conventional","t":239.5,"v":22},{"s":"Conventional","t":240.5,"v":30},{"s":"Conventional","t":241.5,"v":17},{"s":"Conventional","t":242.5,"v":25},{"s":"Conventional","t":243.5,"v":14},{"s":"Conventional","t":244.5,"v":24},{"s":"Conventional","t":245.5,"v":28},{"s":"Conventional","t":246.5,"v":18},{"s":"Conventional","t":247.5,"v":32},{"s":"Conventional","t":248.5,"v":20},{"s":"Conventional","t":249.5,"v":16},{"s":"Conventional","t":250.5,"v":26},{"s":"Conventional","t":251.5,"v":12},{"s":"Conventional","t":252.5,"v":29},{"s":"Conventional","t":253.5,"v":22},{"s":"Conventional","t":254.5,"v":27},{"s":"Conventional","t":255.5,"v":14},{"s":"Conventional","t":256.5,"v":24},{"s":"Conventional","t":257.5,"v":31},{"s":"Conventional","t":258.5,"v":18},{"s":"Conventional","t":259.5,"v":23}
],
"fit": [
{"s":"Prenucleation fit","t":32.3,"v":770},{"s":"Prenucleation fit","t":33,"v":715},{"s":"Prenucleation fit","t":34,"v":655},{"s":"Prenucleation fit","t":35,"v":605},{"s":"Prenucleation fit","t":36,"v":552},{"s":"Prenucleation fit","t":37,"v":503},{"s":"Prenucleation fit","t":38,"v":460},{"s":"Prenucleation fit","t":39,"v":426},{"s":"Prenucleation fit","t":40,"v":398},{"s":"Prenucleation fit","t":41,"v":377},{"s":"Prenucleation fit","t":42,"v":360},{"s":"Prenucleation fit","t":43,"v":346},{"s":"Prenucleation fit","t":44,"v":334},{"s":"Prenucleation fit","t":45,"v":324},{"s":"Prenucleation fit","t":46,"v":315},{"s":"Prenucleation fit","t":47,"v":307},{"s":"Prenucleation fit","t":48,"v":300},{"s":"Prenucleation fit","t":49,"v":293},{"s":"Prenucleation fit","t":50,"v":287},{"s":"Prenucleation fit","t":52,"v":275},{"s":"Prenucleation fit","t":54,"v":265},{"s":"Prenucleation fit","t":56,"v":256},{"s":"Prenucleation fit","t":58,"v":248},{"s":"Prenucleation fit","t":60,"v":242},{"s":"Prenucleation fit","t":63,"v":233},{"s":"Prenucleation fit","t":66,"v":224},{"s":"Prenucleation fit","t":70,"v":215},{"s":"Prenucleation fit","t":75,"v":206.5},{"s":"Prenucleation fit","t":80,"v":200},{"s":"Prenucleation fit","t":90,"v":190.5},{"s":"Prenucleation fit","t":100,"v":181},{"s":"Prenucleation fit","t":110,"v":172},{"s":"Prenucleation fit","t":120,"v":163},{"s":"Prenucleation fit","t":130,"v":153},{"s":"Prenucleation fit","t":140,"v":145},{"s":"Prenucleation fit","t":150,"v":138},{"s":"Prenucleation fit","t":160,"v":131.5},{"s":"Prenucleation fit","t":170,"v":126},{"s":"Prenucleation fit","t":180,"v":121},{"s":"Prenucleation fit","t":190,"v":116.5},{"s":"Prenucleation fit","t":200,"v":112.5},{"s":"Prenucleation fit","t":210,"v":109},{"s":"Prenucleation fit","t":220,"v":105.5},{"s":"Prenucleation fit","t":230,"v":102.5},{"s":"Prenucleation fit","t":240,"v":99.5},{"s":"Prenucleation fit","t":250,"v":96.5},{"s":"Prenucleation fit","t":260,"v":94},
{"s":"Conventional fit","t":30.3,"v":955},{"s":"Conventional fit","t":31,"v":860},{"s":"Conventional fit","t":32,"v":720},{"s":"Conventional fit","t":33,"v":612},{"s":"Conventional fit","t":34,"v":530},{"s":"Conventional fit","t":35,"v":478},{"s":"Conventional fit","t":36,"v":440},{"s":"Conventional fit","t":37,"v":410},{"s":"Conventional fit","t":38,"v":384},{"s":"Conventional fit","t":39,"v":360},{"s":"Conventional fit","t":40,"v":338},{"s":"Conventional fit","t":41,"v":318},{"s":"Conventional fit","t":42,"v":300},{"s":"Conventional fit","t":43,"v":284},{"s":"Conventional fit","t":44,"v":270},{"s":"Conventional fit","t":45,"v":257},{"s":"Conventional fit","t":46,"v":245},{"s":"Conventional fit","t":47,"v":235},{"s":"Conventional fit","t":48,"v":226},{"s":"Conventional fit","t":49,"v":218},{"s":"Conventional fit","t":50,"v":210},{"s":"Conventional fit","t":52,"v":196},{"s":"Conventional fit","t":54,"v":184},{"s":"Conventional fit","t":56,"v":173},{"s":"Conventional fit","t":58,"v":163},{"s":"Conventional fit","t":60,"v":155},{"s":"Conventional fit","t":62,"v":148},{"s":"Conventional fit","t":64,"v":141},{"s":"Conventional fit","t":66,"v":134},{"s":"Conventional fit","t":68,"v":128},{"s":"Conventional fit","t":70,"v":122},{"s":"Conventional fit","t":72,"v":116},{"s":"Conventional fit","t":74,"v":111},{"s":"Conventional fit","t":76,"v":105.5},{"s":"Conventional fit","t":78,"v":100},{"s":"Conventional fit","t":80,"v":96},{"s":"Conventional fit","t":84,"v":88},{"s":"Conventional fit","t":88,"v":82},{"s":"Conventional fit","t":92,"v":76.2},{"s":"Conventional fit","t":96,"v":70.8},{"s":"Conventional fit","t":100,"v":66},{"s":"Conventional fit","t":105,"v":61},{"s":"Conventional fit","t":110,"v":56.5},{"s":"Conventional fit","t":115,"v":52.5},{"s":"Conventional fit","t":120,"v":49},{"s":"Conventional fit","t":130,"v":43.5},{"s":"Conventional fit","t":140,"v":39},{"s":"Conventional fit","t":150,"v":35},{"s":"Conventional fit","t":160,"v":31.5},{"s":"Conventional fit","t":170,"v":28.5},{"s":"Conventional fit","t":180,"v":26},{"s":"Conventional fit","t":190,"v":24},{"s":"Conventional fit","t":200,"v":22.5},{"s":"Conventional fit","t":220,"v":20.5},{"s":"Conventional fit","t":240,"v":19},{"s":"Conventional fit","t":260,"v":18}
]
},
"layer": [
{
"data": {"name": "decay"},
"mark": {"type": "line", "strokeWidth": 2.4, "clip": true},
"encoding": {
"x": {"field": "t", "type": "quantitative", "scale": {"domain": [0, 260], "nice": false, "zero": false},
"axis": {"orient": "bottom", "title": "Time (ns)", "values": [0,50,100,150,200,250], "format": "d", "grid": false,
"tickSize": -9, "tickColor": "black", "tickWidth": 2, "domainColor": "black", "domainWidth": 2,
"labelFont": "Liberation Sans", "labelFontSize": 36, "labelColor": "black", "labelPadding": 14, "labelFlush": false, "labelOverlap": false,
"titleFont": "Liberation Sans", "titleFontSize": 37, "titleFontWeight": "normal", "titleColor": "black", "titleX": 327, "titleY": 77, "titleBaseline": "alphabetic"}},
"y": {"field": "v", "type": "quantitative", "scale": {"domain": [-100, 1100], "nice": false, "zero": false},
"axis": {"orient": "left", "title": "Intensity (counts)", "values": [0,200,400,600,800,1000], "format": "d", "grid": false,
"tickSize": -9, "tickColor": "black", "tickWidth": 2, "domainColor": "black", "domainWidth": 2,
"labelFont": "Liberation Sans", "labelFontSize": 36, "labelColor": "black", "labelPadding": 20, "labelFlush": false, "labelOverlap": false,
"titleFont": "Liberation Sans", "titleFontSize": 37, "titleFontWeight": "normal", "titleColor": "black", "titleX": -87, "titleY": 259, "titleBaseline": "alphabetic"}},
"color": {"field": "s", "type": "nominal", "scale": {"domain": ["Prenucleation", "Conventional"], "range": ["#000000", "#0000ff"]},
"legend": {"title": null, "orient": "none", "legendX": 284, "legendY": 35, "symbolType": "M-2,0H2", "symbolSize": 1600, "symbolStrokeWidth": 1.5, "labelFont": "Liberation Sans", "labelFontSize": 35, "labelColor": "black", "labelOffset": 31, "rowPadding": 4, "labelLimit": 400}}
}
},
{
"data": {"name": "fit"},
"mark": {"type": "line", "strokeWidth": 2.6, "clip": true, "interpolate": "monotone"},
"encoding": {
"x": {"field": "t", "type": "quantitative",
"axis": {"orient": "bottom", "title": null, "values": [25,75,125,175,225], "labels": false, "domain": false, "grid": false, "tickSize": -5, "tickColor": "black", "tickWidth": 2}},
"y": {"field": "v", "type": "quantitative",
"axis": {"orient": "left", "title": null, "values": [100,300,500,700,900], "labels": false, "domain": false, "grid": false, "tickSize": -5, "tickColor": "black", "tickWidth": 2}},
"color": {"field": "s", "type": "nominal", "scale": {"domain": ["Prenucleation fit", "Conventional fit"], "range": ["#ff0000", "#ffff00"]}, "legend": null}
}
}
],
"resolve": {"scale": {"color": "independent"}, "axis": {"x": "independent", "y": "independent"}}
}
